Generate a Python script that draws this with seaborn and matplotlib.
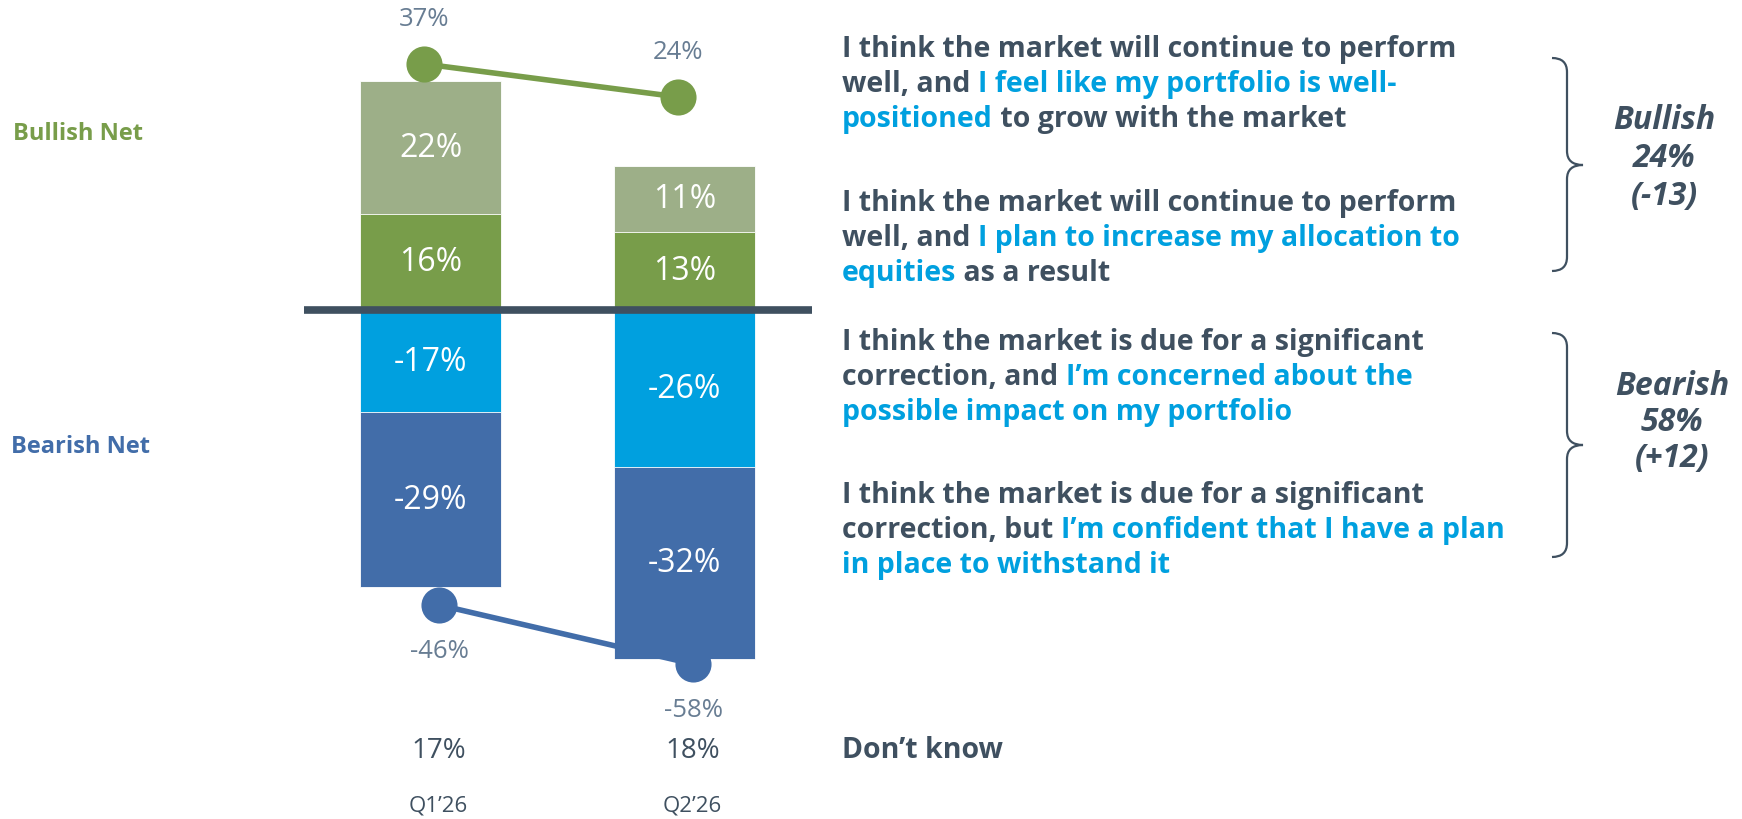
import numpy as np
import pandas as pd
import seaborn as sns
import matplotlib.pyplot as plt
from matplotlib.path import Path
from matplotlib.patches import PathPatch

# =========================
# Datos
# =========================
quarters = ["Q1\u201926", "Q2\u201926"]
bull_wellpositioned = [22, 11]   # verde claro
bull_equities = [16, 13]         # verde oscuro
bear_concerned = [-17, -26]      # azul claro
bear_plan = [-29, -32]           # azul oscuro
bull_net = [37, 24]
bear_net = [-46, -58]
dont_know = [17, 18]

bull_summary = ["Bullish", "24%", "(-13)"]
bear_summary = ["Bearish", "58%", "(+12)"]

# =========================
# Colores
# =========================
LIGHT_GREEN = "#9DAF88"
DARK_GREEN = "#789D4A"
LIGHT_BLUE = "#00A0DF"
DARK_BLUE = "#426DA9"
SLATE = "#3F5060"
GREYBLUE = "#687D93"

sns.set_theme(style="white")
plt.rcParams["font.family"] = ["Open Sans", "DejaVu Sans"]

W, H = 1742, 820
fig = plt.figure(figsize=(W / 100, H / 100), dpi=100)
ax = fig.add_axes([0, 0, 1, 1])

df = pd.DataFrame({
    "quarter": quarters,
    "bull_total": np.add(bull_equities, bull_wellpositioned),
    "bull_equities": bull_equities,
    "bear_total": np.add(bear_concerned, bear_plan),
    "bear_concerned": bear_concerned,
})

# Barras apiladas: primero el total, luego el segmento interior encima
bar_kw = dict(x="quarter", width=0.555, saturation=1, edgecolor="white", linewidth=0.6, ax=ax)
sns.barplot(data=df, y="bull_total", color=LIGHT_GREEN, **bar_kw)
sns.barplot(data=df, y="bull_equities", color=DARK_GREEN, **bar_kw)
sns.barplot(data=df, y="bear_total", color=DARK_BLUE, **bar_kw)
sns.barplot(data=df, y="bear_concerned", color=LIGHT_BLUE, **bar_kw)

ax.set_xlim(-1.695, 5.163)
ax.set_ylim(-84.55, 51.66)
ax.hlines(0, -0.5, 1.5, color=SLATE, lw=5.5, zorder=5)
ax.axis("off")

# Etiquetas de los segmentos
for i in range(len(quarters)):
    segs = [
        (bull_equities[i] / 2, bull_equities[i]),
        (bull_equities[i] + bull_wellpositioned[i] / 2, bull_wellpositioned[i]),
        (bear_concerned[i] / 2, bear_concerned[i]),
        (bear_concerned[i] + bear_plan[i] / 2, bear_plan[i]),
    ]
    for y, v in segs:
        ax.text(i, y, f"{v}%", ha="center", va="center", color="white", fontsize=23)

# =========================
# Lineas netas (escala propia)
# =========================
ax_bull = ax.twinx()
ax_bull.set_ylim(-260.5, 62.6)
ax_bear = ax.twinx()
ax_bear.set_ylim(-89.5, 77.25)
for a, vals, col, dx, off in [(ax_bull, bull_net, DARK_GREEN, -0.025, 33),
                              (ax_bear, bear_net, DARK_BLUE, 0.035, -33)]:
    xs = np.arange(len(vals)) + dx
    sns.lineplot(x=xs, y=vals, ax=a, color=col, lw=4, marker="o",
                 markersize=26, markeredgewidth=0, zorder=6)
    for x, v in zip(xs, vals):
        a.annotate(f"{v}%", (x, v), xytext=(0, off), textcoords="offset points",
                   ha="center", va="center", color=GREYBLUE, fontsize=18.5)
    a.set_xlim(ax.get_xlim())
    a.axis("off")

# Don't know + trimestres
for i, (q, d) in enumerate(zip(quarters, dont_know)):
    ax.annotate(f"{d}%", (430.5 + 254 * i + 8, H - 751), xycoords="figure pixels",
                ha="center", va="center", color=SLATE, fontsize=20)
    ax.annotate(q, (430.5 + 254 * i + 8, H - 806), xycoords="figure pixels",
                ha="center", va="center", color=SLATE, fontsize=16)

# =========================
# Textos de la izquierda
# =========================
ax.annotate("Bullish Net", (13, H - 134), xycoords="figure pixels", ha="left", va="center",
            color=DARK_GREEN, fontsize=17, fontweight="bold")
ax.annotate("Bearish Net", (11, H - 447), xycoords="figure pixels", ha="left", va="center",
            color=DARK_BLUE, fontsize=17, fontweight="bold")

# =========================
# Textos de la derecha (multicolor)
# =========================
blocks = [
    (50, [[("I think the market will continue to perform", SLATE)],
          [("well, and ", SLATE), ("I feel like my portfolio is well-", LIGHT_BLUE)],
          [("positioned", LIGHT_BLUE), (" to grow with the market", SLATE)]]),
    (204, [[("I think the market will continue to perform", SLATE)],
           [("well, and ", SLATE), ("I plan to increase my allocation to", LIGHT_BLUE)],
           [("equities", LIGHT_BLUE), (" as a result", SLATE)]]),
    (343, [[("I think the market is due for a significant", SLATE)],
           [("correction, and ", SLATE), ("I\u2019m concerned about the", LIGHT_BLUE)],
           [("possible impact on my portfolio", LIGHT_BLUE)]]),
    (496, [[("I think the market is due for a significant", SLATE)],
           [("correction, but ", SLATE), ("I\u2019m confident that I have a plan", LIGHT_BLUE)],
           [("in place to withstand it", LIGHT_BLUE)]]),
]
LINE = 35
for y0, lines in blocks:
    for k, parts in enumerate(lines):
        t = None
        for s, c in parts:
            if t is None:
                t = ax.annotate(s, (842, H - (y0 + k * LINE)), xycoords="figure pixels",
                                ha="left", va="center", color=c, fontsize=20.5, fontweight="bold")
            else:
                t = ax.annotate(s, (1, 0), xycoords=t, ha="left", va="bottom",
                                color=c, fontsize=20.5, fontweight="bold")

ax.annotate("Don\u2019t know", (842, H - 751), xycoords="figure pixels", ha="left", va="center",
            color=SLATE, fontsize=20.5, fontweight="bold")

# =========================
# Llaves y resumen
# =========================
def brace(x0, xm, xt, ytop, ymid, ybot, r=14):
    pts = [(x0, ytop), (xm, ytop), (xm, ytop + r), (xm, ymid - r), (xm, ymid), (xt, ymid),
           (xm, ymid), (xm, ymid + r), (xm, ybot - r), (xm, ybot), (x0, ybot)]
    codes = [Path.MOVETO, Path.CURVE3, Path.CURVE3, Path.LINETO, Path.CURVE3, Path.CURVE3,
             Path.CURVE3, Path.CURVE3, Path.LINETO, Path.CURVE3, Path.CURVE3]
    pts = [(x / W, 1 - y / H) for x, y in pts]
    fig.add_artist(PathPatch(Path(pts, codes), fill=False, edgecolor=SLATE, lw=1.6,
                             transform=fig.transFigure))

brace(1552, 1567, 1583, 59, 166, 272)
brace(1552, 1567, 1583, 334, 446, 558)

for txts, xc, ys in [(bull_summary, 1664, [121, 159, 197]), (bear_summary, 1672, [387, 423, 459])]:
    for s, y in zip(txts, ys):
        ax.annotate(s, (xc, H - y), xycoords="figure pixels", ha="center", va="center",
                    color=SLATE, fontsize=23, fontweight="bold", fontstyle="italic")

plt.savefig("out.png", dpi=100)
plt.close(fig)
